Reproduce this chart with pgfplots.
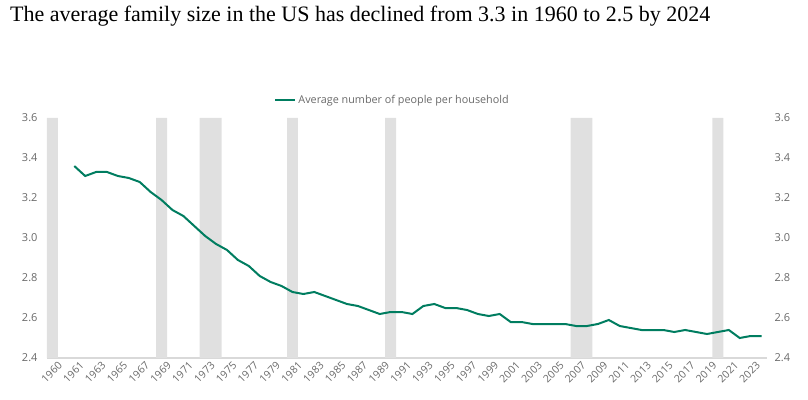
\documentclass[border=0pt]{standalone}
\usepackage{pgfplots}
\pgfplotsset{compat=1.18}
\usepackage{fontspec}
\setmainfont{Open Sans}
\newfontfamily\titlefont{Liberation Serif}
\definecolor{linegreen}{RGB}{0,125,96}
\definecolor{recgray}{RGB}{224,224,224}
\definecolor{txtgray}{RGB}{105,105,105}
\definecolor{axgray}{RGB}{217,217,217}

\pgfplotstableread{
x y
2 3.36
3 3.31
4 3.33
5 3.33
6 3.31
7 3.30
8 3.28
9 3.23
10 3.19
11 3.14
12 3.11
13 3.06
14 3.01
15 2.97
16 2.94
17 2.89
18 2.86
19 2.81
20 2.78
21 2.76
22 2.73
23 2.72
24 2.73
25 2.71
26 2.69
27 2.67
28 2.66
29 2.64
30 2.62
31 2.63
32 2.63
33 2.62
34 2.66
35 2.67
36 2.65
37 2.65
38 2.64
39 2.62
40 2.61
41 2.62
42 2.58
43 2.58
44 2.57
45 2.57
46 2.57
47 2.57
48 2.56
49 2.56
50 2.57
51 2.59
52 2.56
53 2.55
54 2.54
55 2.54
56 2.54
57 2.53
58 2.54
59 2.53
60 2.52
61 2.53
62 2.54
63 2.50
64 2.51
65 2.51
}\hhsize

\begin{document}
\begin{tikzpicture}
\useasboundingbox (0,0) rectangle (808pt,399pt);
\node[anchor=base west, inner sep=0pt] at (10pt,377pt) {\titlefont\fontsize{22}{26}\selectfont The average family size in the US has declined from 3.3 in 1960 to 2.5 by 2024};
\begin{axis}[
  at={(47pt,41pt)}, anchor=south west,
  scale only axis, width=720pt, height=240pt,
  xmin=-0.5, xmax=65.5, ymin=2.4, ymax=3.6,
  axis x line=bottom, axis y line=left,
  x axis line style={axgray, line width=1.5pt, -},
  y axis line style={draw=none},
  major tick length=0pt,
  xtick={0,2,...,64},
  xticklabels={1960,1961,1963,1965,1967,1969,1971,1973,1975,1977,1979,1981,1983,1985,1987,1989,1991,1993,1995,1997,1999,2001,2003,2005,2007,2009,2011,2013,2015,2017,2019,2021,2023},
  xticklabel style={rotate=45, anchor=north east, font=\fontsize{10.5}{12}\selectfont, text=txtgray, inner sep=0.5pt, yshift=-5pt, xshift=2pt},
  ytick={2.4,2.6,...,3.61},
  yticklabel style={font=\fontsize{11}{13}\selectfont, text=txtgray, /pgf/number format/fixed, /pgf/number format/fixed zerofill, /pgf/number format/precision=1, xshift=-6pt},
  /pgf/number format/assume math mode=true,
  legend style={at={(0.48,1.075)}, anchor=center, draw=none, fill=none, font=\fontsize{10.8}{12}\selectfont, text=txtgray, inner sep=0pt},
  legend image code/.code={\draw[#1] (0pt,0pt) -- (20pt,0pt);},
  clip=true,
]
\addplot[ybar, bar width=1, fill=recgray, draw=none, forget plot] coordinates {(0,3.6) (10,3.6) (14,3.6) (15,3.6) (22,3.6) (31,3.6) (48,3.6) (49,3.6) (61,3.6)};
\addplot[linegreen, line width=2pt] table[x=x, y=y] {\hhsize};
\addlegendentry{Average number of people per household}
\end{axis}
\begin{axis}[
  at={(47pt,41pt)}, anchor=south west,
  scale only axis, width=720pt, height=240pt,
  xmin=-0.5, xmax=65.5, ymin=2.4, ymax=3.6,
  axis x line=none, axis y line=right,
  y axis line style={draw=none},
  major tick length=0pt,
  ytick={2.4,2.6,...,3.61},
  yticklabel style={font=\fontsize{11}{13}\selectfont, text=txtgray, /pgf/number format/fixed, /pgf/number format/fixed zerofill, /pgf/number format/precision=1, xshift=4pt},
  /pgf/number format/assume math mode=true,
]
\addplot[draw=none] coordinates {(0,2.4)};
\end{axis}
\end{tikzpicture}
\end{document}
